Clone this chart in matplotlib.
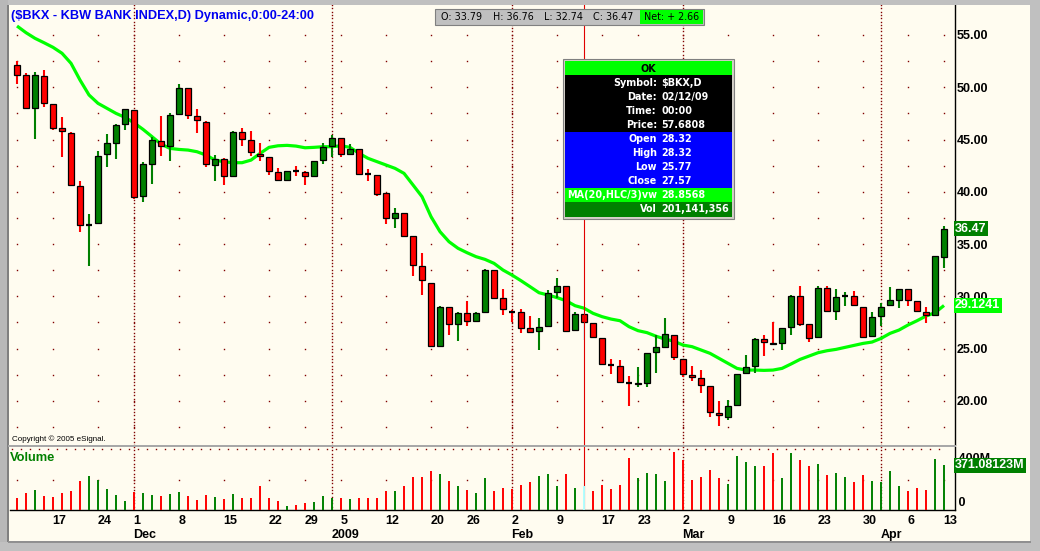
import matplotlib
matplotlib.use('Agg')
import matplotlib.pyplot as plt
import matplotlib.patches as mpatches
from matplotlib.transforms import blended_transform_factory
import numpy as np
import pandas as pd

# ---------------- data ----------------
holidays = ['2008-11-27', '2008-12-25', '2009-01-01', '2009-01-19', '2009-02-16', '2009-04-10']
dates = [d for d in pd.bdate_range('2008-11-11', '2009-04-13') if d.strftime('%Y-%m-%d') not in holidays]
date_keys = [d.strftime('%Y-%m-%d') for d in dates]

opens = [52.10, 51.20, 48.00, 51.07, 48.36, 46.06, 45.62, 40.52, 36.85, 36.97,
         43.58, 44.63, 46.45, 47.79, 39.62, 42.62, 44.82, 44.34, 47.40, 49.89,
         47.21, 46.64, 42.52, 43.10, 41.47, 45.68, 44.92, 43.64, 43.29, 41.85,
         41.09, 42.00, 41.85, 41.47, 43.00, 44.34, 45.11, 43.58, 44.06, 41.67,
         41.57, 39.85, 37.46, 37.94, 35.73, 32.86, 31.24, 25.27, 28.94, 27.31,
         28.40, 27.60, 28.53, 32.48, 29.80, 28.53, 28.46, 26.93, 26.64, 27.12,
         30.44, 30.95, 26.74, 28.32, 27.41, 25.97, 23.39, 23.29, 21.67, 21.60,
         21.67, 24.63, 25.17, 26.26, 23.96, 22.50, 22.15, 21.38, 18.80, 18.48,
         19.56, 22.62, 23.29, 25.88, 25.55, 25.50, 27.03, 30.06, 27.34, 26.07,
         30.76, 28.56, 30.06, 29.99, 29.00, 26.19, 28.11, 29.13, 29.64, 30.66,
         29.51, 28.46, 28.17, 33.79]
highs = [52.50, 51.40, 51.45, 51.65, 48.36, 47.15, 45.75, 41.00, 37.87, 43.90,
         45.52, 46.48, 47.88, 47.79, 42.84, 45.20, 47.24, 47.56, 50.31, 49.89,
         47.91, 46.77, 43.48, 43.26, 45.81, 46.10, 45.81, 44.66, 43.29, 42.27,
         42.01, 42.46, 41.95, 42.90, 44.66, 45.43, 45.11, 44.57, 44.06, 42.15,
         41.57, 39.85, 38.45, 37.94, 35.73, 34.14, 31.24, 29.07, 28.94, 28.50,
         29.55, 28.50, 32.58, 32.48, 30.69, 28.65, 28.78, 28.11, 27.92, 30.60,
         31.75, 30.95, 28.50, 28.32, 27.41, 25.97, 23.99, 23.87, 22.37, 23.23,
         24.54, 26.29, 27.92, 26.26, 24.00, 23.32, 22.94, 21.38, 19.97, 20.07,
         22.53, 24.38, 26.04, 26.29, 27.54, 26.99, 30.09, 30.98, 27.34, 30.98,
         30.98, 30.66, 30.41, 30.50, 29.00, 28.46, 29.32, 30.85, 30.66, 30.66,
         29.51, 28.94, 33.85, 36.76]
lows = [50.30, 48.00, 45.04, 48.14, 45.90, 43.35, 40.61, 36.18, 32.92, 36.97,
        42.40, 43.16, 45.90, 39.27, 39.05, 40.77, 43.45, 42.97, 47.40, 46.99,
        45.59, 42.40, 41.06, 40.67, 41.47, 44.40, 43.45, 42.97, 41.60, 41.09,
        41.09, 41.53, 40.67, 41.47, 42.68, 43.35, 43.35, 43.58, 41.73, 41.03,
        39.63, 36.95, 36.56, 35.80, 31.90, 30.12, 25.27, 25.27, 26.32, 25.75,
        27.19, 27.60, 28.53, 29.74, 28.24, 27.54, 26.52, 26.52, 24.89, 27.12,
        29.87, 26.55, 26.74, 25.77, 26.07, 23.48, 22.59, 21.76, 19.53, 21.35,
        21.35, 22.69, 25.17, 23.90, 22.30, 21.92, 20.77, 18.48, 17.62, 18.16,
        19.56, 22.62, 22.69, 24.31, 25.33, 24.89, 26.29, 27.15, 25.65, 26.07,
        28.56, 27.76, 29.07, 29.13, 26.13, 26.19, 27.18, 29.13, 28.91, 29.10,
        28.46, 27.47, 28.17, 32.74]
closes = [51.20, 48.00, 51.17, 48.46, 46.13, 45.78, 40.61, 36.78, 36.85, 43.38,
          44.63, 46.35, 47.88, 39.52, 42.62, 44.92, 44.34, 47.31, 49.89, 47.31,
          46.83, 42.62, 43.10, 41.47, 45.68, 45.01, 43.77, 43.38, 41.95, 41.09,
          42.01, 42.00, 41.47, 42.90, 44.25, 45.11, 43.58, 44.09, 41.73, 41.67,
          39.82, 37.46, 38.00, 35.80, 32.96, 31.52, 25.27, 28.97, 27.31, 28.40,
          27.60, 28.40, 32.48, 29.87, 28.75, 28.53, 26.99, 26.58, 27.03, 30.28,
          30.95, 26.71, 28.27, 27.57, 26.07, 23.48, 23.39, 21.76, 21.67, 21.70,
          24.54, 25.11, 26.35, 24.15, 22.53, 22.24, 21.48, 18.89, 18.60, 19.46,
          22.53, 23.20, 25.88, 25.59, 25.45, 26.99, 30.00, 27.31, 26.00, 30.76,
          28.56, 29.90, 30.06, 29.13, 26.13, 27.98, 29.00, 29.61, 30.66, 29.64,
          28.56, 28.17, 33.81, 36.47]
ma20 = [55.86, 55.22, 54.68, 54.26, 53.82, 53.25, 52.29, 50.69, 49.26, 48.46,
        47.98, 47.50, 47.12, 46.60, 45.97, 45.27, 44.56, 44.15, 44.05, 43.99,
        43.83, 43.51, 43.03, 42.87, 42.78, 42.78, 43.03, 43.67, 44.25, 44.40,
        44.44, 44.37, 44.21, 44.25, 44.31, 44.31, 44.40, 44.25, 43.68, 43.20,
        42.88, 42.56, 42.24, 41.76, 40.65, 39.53, 37.62, 36.18, 35.22, 34.59,
        34.17, 33.79, 33.53, 33.15, 32.51, 32.03, 31.49, 30.92, 30.34, 30.12,
        29.87, 29.58, 29.10, 28.86, 28.37, 28.05, 27.82, 27.66, 27.09, 26.71,
        26.52, 26.18, 25.90, 25.70, 25.33, 25.18, 24.86, 24.54, 24.06, 23.58,
        23.10, 22.94, 22.94, 22.91, 22.94, 23.10, 23.52, 23.96, 24.28, 24.60,
        24.79, 24.92, 25.11, 25.30, 25.49, 25.62, 25.97, 26.45, 26.77, 27.25,
        27.66, 28.11, 28.43, 29.12]
volume_m = [96, 140, 165, 115, 107, 140, 157, 239, 280, 248,
            173, 124, 74, 149, 140, 124, 115, 132, 149, 115,
            82, 124, 107, 91, 132, 99, 99, 198, 99, 74,
            33, 41, 58, 66, 115, 99, 99, 91, 99, 99,
            99, 157, 157, 198, 272, 272, 322, 297, 239, 198,
            165, 140, 264, 157, 182, 173, 206, 231, 280, 297,
            198, 297, 182, 201, 157, 206, 173, 206, 429, 264,
            305, 297, 239, 479, 413, 248, 272, 330, 264, 215,
            446, 396, 363, 363, 470, 264, 470, 413, 363, 380,
            289, 305, 272, 231, 289, 239, 231, 322, 198, 157,
            182, 165, 421, 371]

price_ticks = [20, 25, 30, 35, 40, 45, 50, 55]
day_ticks = ['2008-11-17', '2008-11-24', '2008-12-01', '2008-12-08', '2008-12-15',
             '2008-12-22', '2008-12-29', '2009-01-05', '2009-01-12', '2009-01-20',
             '2009-01-26', '2009-02-02', '2009-02-09', '2009-02-17', '2009-02-23',
             '2009-03-02', '2009-03-09', '2009-03-16', '2009-03-23', '2009-03-30',
             '2009-04-06', '2009-04-13']
month_ticks = ['2008-12-01', '2009-01-02', '2009-02-02', '2009-03-02', '2009-04-01']
month_labels = ['Dec', '2009', 'Feb', 'Mar', 'Apr']
cursor_date = '2009-02-12'
title = '($BKX - KBW BANK INDEX,D) Dynamic,0:00-24:00'
tooltip_rows = [('Symbol:', '$BKX,D'), ('Date:', '02/12/09'), ('Time:', '00:00'),
                ('Price:', '57.6808'), ('Open', '28.32'), ('High', '28.32'),
                ('Low', '25.77'), ('Close', '27.57'), ('MA(20,HLC/3)vw', '28.8568'),
                ('Vol', '201,141,356')]
ma_last_label = '29.1241'
vol_last_label = '371.08123M'

# ---------------- styles ----------------
W, H = 1040, 551
CREAM = '#FFFCF0'
RED = '#FF0000'
GREEN = '#008000'
LIME = '#00FF00'
DOT = '#800000'
AXFONT = dict(family='Liberation Sans', weight='bold', size=9)
TIPFONT = dict(family='DejaVu Sans', weight='bold', size=6.9)

fig = plt.figure(figsize=(W / 100, H / 100), dpi=100)
fig.patch.set_facecolor(CREAM)


def fx(x):
    return x / W


def fy(y):
    return 1 - y / H


def frect(x0, y0, x1, y1, **kw):
    fig.patches.append(mpatches.Rectangle((fx(x0), fy(y1)), fx(x1) - fx(x0), fy(y0) - fy(y1),
                                          transform=fig.transFigure, **kw))


# outer window frame
frect(0, 0, W, 5, fc='#C0C0C0', ec='none', zorder=0)
frect(0, 0, 8, H, fc='#B8B8B8', ec='none', zorder=0)
frect(7, 5, 9, 542, fc='#808080', ec='none', zorder=0)
frect(1030, 0, W, H, fc='#C0C0C0', ec='none', zorder=0)
frect(0, 542, W, H, fc='#C0C0C0', ec='none', zorder=0)
frect(8, 541, 1031, 543, fc='#909090', ec='none', zorder=0)

# axes
ax = fig.add_axes([fx(10), fy(445), fx(955) - fx(10), fy(5) - fy(445)])
axv = fig.add_axes([fx(10), fy(510), fx(955) - fx(10), fy(447) - fy(510)])
n = len(closes)
idx = np.arange(n)
xlim = (-0.78, 104.22)
for a in (ax, axv):
    a.set_facecolor('none')
    a.set_xlim(*xlim)
    for s in ('left', 'top', 'bottom'):
        a.spines[s].set_visible(False)
    a.spines['right'].set_color('black')
    a.spines['right'].set_linewidth(1.0)
    a.set_xticks([])
ax.set_ylim(15.77, 57.87)
axv.set_ylim(0, 520)
axv.spines['bottom'].set_visible(True)
axv.spines['bottom'].set_color('black')
axv.spines['bottom'].set_linewidth(1.0)

# separator between panes
frect(8, 444.5, 956, 447, fc='#A8A8A8', ec='none', zorder=1)

pos = {k: i for i, k in enumerate(date_keys)}
grid_x = [0] + [pos[d] for d in day_ticks]
month_x = [pos[d] for d in month_ticks]

# dotted grid (single-pixel dots)
dot_kw = dict(linestyle='none', marker='s', ms=1.0, mew=0, color=DOT, zorder=1)
rows = np.arange(17.5, 55.01, 2.5)
gx, gy = np.meshgrid(grid_x, rows)
ax.plot(gx.ravel(), gy.ravel(), **dot_kw)
gx2 = np.array(grid_x)
axv.plot(gx2, np.full(len(gx2), 250), **dot_kw)
axv.plot(idx - 0.55, np.full(n, 500), **dot_kw)

# month separators: dense vertical dot columns (about every 3.3 px)
y0, y1 = ax.get_ylim()
py = np.linspace(y0, y1, 134)
vy = np.linspace(0, 520, 20)
for m in month_x:
    ax.plot(np.full(len(py), m), py, **dot_kw)
    axv.plot(np.full(len(vy), m), vy, **dot_kw)

# colours by close vs previous close
colors = []
for i in range(n):
    ref = closes[i - 1] if i > 0 else opens[i]
    colors.append(GREEN if closes[i] >= ref else RED)

cur = pos[cursor_date]

# moving average
ax.plot(idx, ma20, color=LIME, lw=2.3, zorder=2, solid_capstyle='butt')

# candles
bw = 0.70
for i in range(n):
    o, h, l, c = opens[i], highs[i], lows[i], closes[i]
    col = colors[i]
    wick_col = '#D8F4F4' if i == cur else col
    ax.vlines(i, l, h, color=wick_col, lw=1.5, zorder=3)
    if abs(c - o) < 0.05:
        ax.hlines(o, i - bw / 2, i + bw / 2, color='black', lw=1.6, zorder=4)
    else:
        ax.add_patch(mpatches.Rectangle((i - bw / 2, min(o, c)), bw, abs(c - o),
                                        fc=col, ec='black', lw=0.9, zorder=4))

# volume bars
for i in range(n):
    vc = '#B0FFFF' if i == cur else colors[i]
    axv.vlines(i, 0, volume_m[i], color=vc, lw=1.4, zorder=4)

# cursor line
ax.axvline(cur, color='#E00000', lw=0.8, zorder=5)
axv.axvline(cur, color='#E00000', lw=0.8, zorder=3)

# right price axis
ax.yaxis.tick_right()
ax.set_yticks(price_ticks)
ax.set_yticklabels(['%.2f' % t for t in price_ticks], fontdict=AXFONT)
ax.tick_params(axis='y', length=0, pad=1.5, colors='black')
axv.set_yticks([])
tv = blended_transform_factory(axv.transAxes, axv.transData)
axv.text(1.0, 420, ' 400M', transform=tv, ha='left', va='center', **AXFONT, zorder=6)
axv.text(1.0, 5, ' 0', transform=tv, ha='left', va='bottom', **AXFONT, zorder=6)

# right value flags
tp = blended_transform_factory(ax.transAxes, ax.transData)
flag_font = dict(color='white', family='Liberation Sans', weight='bold', size=9)
ax.text(1.0, closes[-1], '%.2f' % closes[-1], transform=tp, ha='left', va='center',
        zorder=7, clip_on=False, bbox=dict(boxstyle='square,pad=0.12', fc=GREEN, ec='none'),
        **flag_font)
ax.text(1.0, ma20[-1], ma_last_label, transform=tp, ha='left', va='center',
        zorder=7, clip_on=False, bbox=dict(boxstyle='square,pad=0.12', fc=LIME, ec='none'),
        **flag_font)
axv.text(1.0, volume_m[-1], vol_last_label, transform=tv, ha='left', va='center',
         zorder=7, clip_on=False, bbox=dict(boxstyle='square,pad=0.12', fc=GREEN, ec='none'),
         **flag_font)

# x labels
tx = blended_transform_factory(axv.transData, fig.transFigure)
for d in day_ticks:
    axv.text(pos[d] - 0.05, fy(521), str(int(d[-2:])), transform=tx, ha='left', va='center',
             clip_on=False, **AXFONT)
for d, lab in zip(month_ticks, month_labels):
    axv.text(pos[d] - 0.05, fy(535), lab, transform=tx, ha='left', va='center',
             clip_on=False, **AXFONT)

# title, copyright, volume label
fig.text(fx(11), fy(15.5), title, color='#0000F0', family='Liberation Sans', weight='bold',
         size=9.2, ha='left', va='center')
fig.text(fx(12), fy(439), 'Copyright \u00a9 2005 eSignal.', color='black',
         family='Liberation Sans', size=5.8, ha='left', va='center')
fig.text(fx(10), fy(458), 'Volume', color=GREEN, family='Liberation Sans', weight='bold',
         size=9.3, ha='left', va='center')

# OHLC box at top
frect(435, 9, 704, 25, fc='#C0C0C0', ec='#808080', lw=0.8, zorder=10)
frect(640, 10, 703, 24, fc=LIME, ec='none', zorder=11)
net = closes[-1] - closes[-2]
top_items = [(441, 'O: %.2f' % opens[-1]), (493, 'H: %.2f' % highs[-1]),
             (544, 'L: %.2f' % lows[-1]), (593, 'C: %.2f' % closes[-1]),
             (644, 'Net: + %.2f' % net)]
for x, s in top_items:
    fig.text(fx(x), fy(17.5), s, family='DejaVu Sans', size=6.9, color='black',
             ha='left', va='center', zorder=12)

# tooltip box
frect(563, 59, 734, 219, fc='#D4D0C8', ec='#808080', lw=0.8, zorder=10)
frect(565, 61, 732, 75, fc=LIME, ec='none', zorder=11)
frect(565, 75, 732, 132, fc='black', ec='none', zorder=11)
frect(565, 132, 732, 188, fc='#0000FF', ec='none', zorder=11)
frect(565, 188, 732, 202, fc=LIME, ec='none', zorder=11)
frect(565, 202, 732, 217, fc=GREEN, ec='none', zorder=11)
fig.text(fx(648), fy(68.5), 'OK', color='black', ha='center', va='center', zorder=12, **TIPFONT)
row_y = [83, 97, 111, 125, 139, 153, 167, 181, 195, 209]
for (lab, val), y in zip(tooltip_rows, row_y):
    fig.text(fx(657), fy(y), lab, color='white', ha='right', va='center', zorder=12, **TIPFONT)
    fig.text(fx(661), fy(y), val, color='white', ha='left', va='center', zorder=12, **TIPFONT)

fig.savefig('out.png', dpi=100, facecolor=fig.get_facecolor())
